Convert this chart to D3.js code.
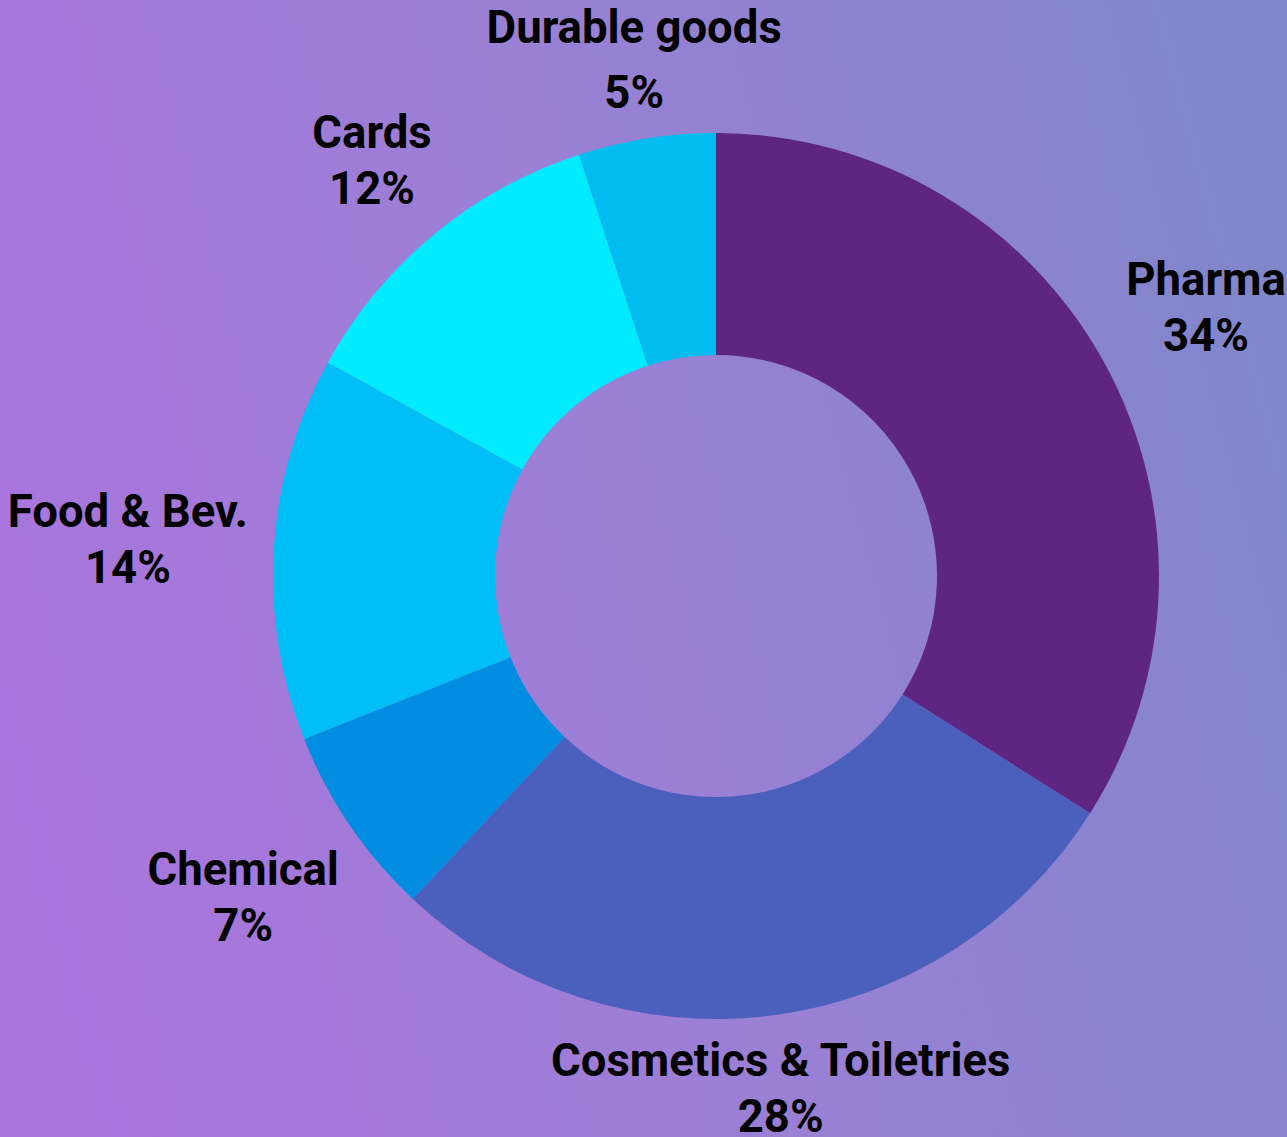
<!DOCTYPE html>
<html>
<head>
<meta charset="utf-8">
<script src="https://cdn.jsdelivr.net/npm/d3@7"></script>
<style>
  html, body { margin: 0; padding: 0; background: #9a80d5; }
  svg { display: block; }
  .lbl { font-family: Roboto, "Noto Sans", sans-serif; font-weight: 700; fill: #000; }
</style>
</head>
<body>
<div id="chart"></div>
<script>
// donut of share by sector, clockwise from 12 o'clock
const categories = ["Pharma", "Cosmetics & Toiletries", "Chemical", "Food & Bev.", "Cards", "Durable goods"];
const shares     = [34, 28, 7, 14, 12, 5];
const colors     = ["#5e2583", "#4b5fbd", "#018de2", "#00bff6", "#00ebfe", "#00bcef"];

// === sizing ===
const outerW = 1287, outerH = 1137;
const cx = 716, cy = 576;
const outerR = 443, innerR = 221;
const labelGap = 25;          // distance between ring and nearest corner of a label box
const fontSize = 45.5, lineStep = 56, descExtra = 9;
const capH = fontSize * 0.711;

const svg = d3.select("#chart")
  .append("svg")
  .attr("width", outerW)
  .attr("height", outerH);

// background gradient
const defs = svg.append("defs");
const grad = defs.append("linearGradient")
  .attr("id", "bg")
  .attr("gradientUnits", "userSpaceOnUse")
  .attr("x1", 0).attr("y1", outerH * 0.65)
  .attr("x2", outerW).attr("y2", outerH * 0.35);
grad.append("stop").attr("offset", "0%").attr("stop-color", "#aa74dd");
grad.append("stop").attr("offset", "50%").attr("stop-color", "#9a80d5");
grad.append("stop").attr("offset", "100%").attr("stop-color", "#8186cb");

svg.append("rect")
  .attr("width", outerW).attr("height", outerH)
  .attr("fill", "url(#bg)");

const g = svg.append("g").attr("transform", `translate(${cx},${cy})`);

const pie = d3.pie().sort(null).value(d => d.value);
const arc = d3.arc().innerRadius(innerR).outerRadius(outerR);

const rows = categories.map((c, i) => ({ name: c, value: shares[i], color: colors[i] }));
const arcs = pie(rows);

g.append("g").selectAll("path")
  .data(arcs)
  .join("path")
  .attr("d", arc)
  .attr("fill", d => d.data.color);

// nearest distance from the centre to an axis-aligned box
function boxDist(x, y, hw, hh) {
  const nx = Math.max(0, Math.abs(x) - hw);
  const ny = Math.max(0, Math.abs(y) - hh);
  return Math.hypot(nx, ny);
}

const labels = g.append("g").selectAll("text")
  .data(arcs)
  .join("text")
  .attr("class", "lbl")
  .attr("text-anchor", "middle")
  .style("font-size", fontSize + "px");

labels.append("tspan").attr("class", "l1").text(d => d.data.name);
labels.append("tspan").attr("class", "l2").text(d => d.data.value + "%");

labels.each(function(d) {
  const t = d3.select(this);
  const w = Math.max(
    t.select(".l1").node().getComputedTextLength(),
    t.select(".l2").node().getComputedTextLength()
  );
  // first line with a descender gets a little more room
  const step = lineStep + (/[gjpqy]/.test(d.data.name) ? descExtra : 0);
  const hw = w / 2, hh = (capH + step) / 2;
  const a = (d.startAngle + d.endAngle) / 2;
  const ux = Math.sin(a), uy = -Math.cos(a);
  // push label out along the mid-angle until its box clears the ring
  let lo = 0, hi = 2000;
  for (let k = 0; k < 60; k++) {
    const m = (lo + hi) / 2;
    if (boxDist(ux * m, uy * m, hw, hh) < outerR + labelGap) lo = m; else hi = m;
  }
  const px = ux * hi, py = uy * hi;
  const base1 = py - hh + capH;
  t.select(".l1").attr("x", px).attr("y", base1);
  t.select(".l2").attr("x", px).attr("y", base1 + step);
});
</script>
</body>
</html>
